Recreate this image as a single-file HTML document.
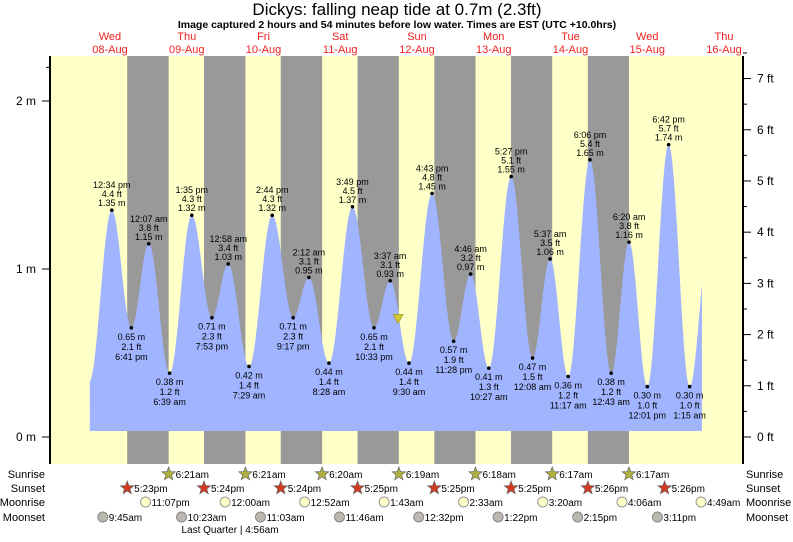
<!DOCTYPE html>
<html><head><meta charset="utf-8"><style>
body{margin:0;background:#fff;width:793px;height:537px;overflow:hidden}
svg{font-family:"Liberation Sans",sans-serif}
</style></head><body>
<svg id="c" width="793" height="537" xmlns="http://www.w3.org/2000/svg"></svg>
<script>
// data (t = hours from Wed 08-Aug 00:00)
const tideTimes=[5.5,12.57,18.68,24.12,30.65,37.58,43.88,48.97,55.48,62.73,69.28,74.2,80.47,87.82,94.55,99.62,105.5,112.72,119.47,124.77,130.45,137.45,144.13,149.62,155.28,162.1,168.72,174.33,180.02,186.7,193.25,199.5];
const tideHeights=[0.33,1.35,0.65,1.15,0.38,1.32,0.71,1.03,0.42,1.32,0.71,0.95,0.44,1.37,0.65,0.93,0.44,1.45,0.57,0.97,0.41,1.55,0.47,1.06,0.36,1.65,0.38,1.16,0.30,1.74,0.30,1.2];
const tideLabels=["","12:34 pm","6:41 pm","12:07 am","6:39 am","1:35 pm","7:53 pm","12:58 am","7:29 am","2:44 pm","9:17 pm","2:12 am","8:28 am","3:49 pm","10:33 pm","3:37 am","9:30 am","4:43 pm","11:28 pm","4:46 am","10:27 am","5:27 pm","12:08 am","5:37 am","11:17 am","6:06 pm","12:43 am","6:20 am","12:01 pm","6:42 pm","1:15 am",""];
const dayNames=["Wed","Thu","Fri","Sat","Sun","Mon","Tue","Wed","Thu"];
const dayDates=["08-Aug","09-Aug","10-Aug","11-Aug","12-Aug","13-Aug","14-Aug","15-Aug","16-Aug"];
const sunsetT=[17.38,41.4,65.4,89.42,113.42,137.42,161.43,185.43];
const sunsetL=["5:23pm","5:24pm","5:24pm","5:25pm","5:25pm","5:25pm","5:26pm","5:26pm"];
const sunriseT=[30.35,54.35,78.33,102.32,126.3,150.28,174.28];
const sunriseL=["6:21am","6:21am","6:20am","6:19am","6:18am","6:17am","6:17am"];
const moonriseT=[23.12,48,72.87,97.72,122.55,147.33,172.1,196.82];
const moonriseL=["11:07pm","12:00am","12:52am","1:43am","2:33am","3:20am","4:06am","4:49am"];
const moonsetT=[9.75,34.38,59.05,83.77,108.53,133.37,158.25,183.18];
const moonsetL=["9:45am","10:23am","11:03am","11:46am","12:32pm","1:22pm","2:15pm","3:11pm"];
const mTicks=[0,1,2];
const ftTicks=[0,1,2,3,4,5,6,7];
const nowT=102.1, nowH=0.70, startT=5.7, endT=197.1;

const X=t=>71.6+3.198*t, Y=m=>437-168*m;
const S=document.getElementById('c'),NS="http://www.w3.org/2000/svg";
function el(tag,a,txt){const e=document.createElementNS(NS,tag);for(const k in a)e.setAttribute(k,a[k]);if(txt!=null)e.textContent=txt;S.appendChild(e);return e;}
function tx(x,y,s,o){return el('text',Object.assign({x:x,y:y,'font-size':9,'text-anchor':'middle',fill:'#000'},o||{}),s);}

let bg=el('rect',{x:50,y:56,width:693,height:408,fill:'#ffffc8'});


for(let i=0;i<sunriseT.length;i++){
  const r=el('rect',{x:X(sunsetT[i]),y:56,width:X(sunriseT[i])-X(sunsetT[i]),height:408,fill:'#999'});
  
  
}
function h(t){for(let i=0;i<tideTimes.length-1;i++){if(t>=tideTimes[i]&&t<=tideTimes[i+1]){const f=(t-tideTimes[i])/(tideTimes[i+1]-tideTimes[i]);return tideHeights[i]+(tideHeights[i+1]-tideHeights[i])*(1-Math.cos(Math.PI*f))/2;}}return tideHeights[0];}
let d=`M${X(startT)},431`;
for(let t=startT;t<=endT;t+=0.1)d+=`L${X(t).toFixed(1)},${Y(h(t)).toFixed(1)}`;
d+=`L${X(endT)},${Y(h(endT))}L${X(endT)},431Z`;
const area=el('path',{d:d,fill:'#a0b4ff'});


for(let i=1;i<tideTimes.length-1;i++){
  const x=X(tideTimes[i]),y=Y(tideHeights[i]);
  const dot=el('circle',{cx:x,cy:y,r:1.8,fill:'#000'});
  
  
  const ft=(tideHeights[i]*3.2808).toFixed(1)+' ft',m=tideHeights[i].toFixed(2)+' m';
  const high=tideHeights[i]>tideHeights[i-1];
  if(high){tx(x,y-22,tideLabels[i]);tx(x,y-13,ft);tx(x,y-4,m);}
  else{tx(x,y+12,m);tx(x,y+22,ft);tx(x,y+32,tideLabels[i]);}
}
const nx=X(nowT),ny=Y(nowH);
const tri=el('path',{d:`M${nx-5},${ny-5}L${nx+5},${ny-5}L${nx},${ny+4}Z`,fill:'#d4c830',stroke:'#998f20','stroke-width':0.6});


// axes
el('line',{x1:50,y1:56,x2:50,y2:464,stroke:'#000','stroke-width':2});
el('line',{x1:743,y1:56,x2:743,y2:464,stroke:'#000','stroke-width':2});
mTicks.forEach(m=>{el('line',{x1:42,y1:Y(m),x2:50,y2:Y(m),stroke:'#000'});tx(36,Y(m)+4,m+' m',{'font-size':12,'text-anchor':'end'});});
el('line',{x1:46,y1:Y(2.2),x2:50,y2:Y(2.2),stroke:'#000'});
ftTicks.forEach(f=>{const y=Y(f/3.2808);el('line',{x1:743,y1:y,x2:751,y2:y,stroke:'#000'});el('line',{x1:743,y1:Y((f+0.5)/3.2808),x2:747,y2:Y((f+0.5)/3.2808),stroke:'#000'});tx(757,y+4,f+' ft',{'font-size':12,'text-anchor':'start'});});
// titles
tx(397,15,"Dickys: falling  neap tide at 0.7m (2.3ft)",{'font-size':17});
tx(397,28,"Image captured 2 hours and 54 minutes before low water. Times are EST (UTC +10.0hrs)",{'font-size':10.5,'font-weight':'bold'});
for(let i=0;i<dayNames.length;i++){const x=X(12+24*i);tx(x,40,dayNames[i],{'font-size':11,fill:'#f02020'});tx(x,53,dayDates[i],{'font-size':11,fill:'#f02020'});}
// rows
const rowY=[478,492,506,521];
["Sunrise","Sunset","Moonrise","Moonset"].forEach((n,i)=>{tx(45,rowY[i],n,{'font-size':11,'text-anchor':'end'});tx(746,rowY[i],n,{'font-size':11,'text-anchor':'start'});});
function star(x,y,fill,st){let p='';for(let k=0;k<10;k++){const r=k%2?3:7,a=-Math.PI/2+k*Math.PI/5;p+=(k?'L':'M')+(x+r*Math.cos(a)).toFixed(1)+','+(y+r*Math.sin(a)).toFixed(1);}return el('path',{d:p+'Z',fill:fill,stroke:st,'stroke-width':0.7});}
sunriseT.forEach((t,i)=>{const s=star(X(t),rowY[0]-4,'#b0b040','#666');tx(X(t)+7,rowY[0],sunriseL[i],{'font-size':10,'text-anchor':'start'});});
sunsetT.forEach((t,i)=>{const s=star(X(t),rowY[1]-4,'#d03a20','#666');tx(X(t)+7,rowY[1],sunsetL[i],{'font-size':10,'text-anchor':'start'});});
moonriseT.forEach((t,i)=>{const c=el('circle',{cx:X(t),cy:rowY[2]-4,r:5,fill:'#ffffc8',stroke:'#999'});tx(X(t)+6,rowY[2],moonriseL[i],{'font-size':10,'text-anchor':'start'});});
moonsetT.forEach((t,i)=>{const c=el('circle',{cx:X(t),cy:rowY[3]-4,r:5,fill:'#bbb8b0',stroke:'#888'});tx(X(t)+6,rowY[3],moonsetL[i],{'font-size':10,'text-anchor':'start'});});
tx(230,533,"Last Quarter | 4:56am",{'font-size':10});
</script>
</body></html>
